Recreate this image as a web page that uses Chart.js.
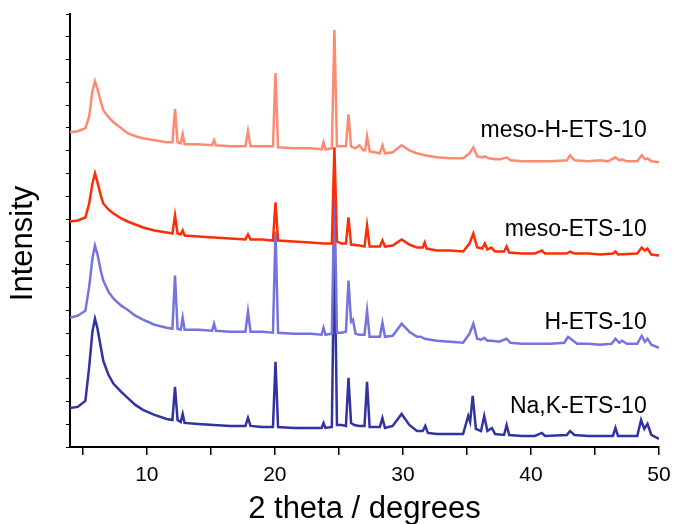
<!DOCTYPE html>
<html>
<head>
<meta charset="utf-8">
<script src="https://cdn.jsdelivr.net/npm/chart.js@4.4.1/dist/chart.umd.min.js"></script>
<style>
  html, body { margin: 0; padding: 0; background: #fff; }
</style>
</head>
<body>
<canvas id="xrd" width="674" height="524"></canvas>
<script>
// series names, top to bottom
const seriesNames = ["meso-H-ETS-10", "meso-ETS-10", "H-ETS-10", "Na,K-ETS-10"];

// [2theta, intensity (stacked, arbitrary units)]
const mesoH = [
  [4,314],[4.6,315],[5.2,318],[5.5,330],[5.75,355],[5.95,365],[6.15,357],[6.4,345],[6.6,336],[7.0,329],[7.4,324],[8.0,318],
  [8.5,313],[9.1,310],[9.7,308],[10.6,306],[11.55,304],[12.0,304],[12.2,337],[12.4,304],[12.65,303],[12.8,312],
  [12.95,302],[14,302],[15.1,301],[15.25,306],[15.4,301],[16.5,300],[17.7,300],[17.9,315],[18.1,300],[19.0,300],
  [19.85,300],[20.05,373],[20.25,299],[21.5,298],[22.8,298],[23.65,297],[23.8,304],[23.95,297],[24.45,298],[24.65,416],
  [24.85,300],[25.2,300],[25.55,300],[25.75,332],[25.95,300],[26.3,298],[26.6,301],[26.9,296],[27.05,296],[27.2,310],
  [27.4,295],[28.2,293],[28.4,301],[28.6,293],[29.2,294],[29.9,301],[30.5,296],[31.1,293],[31.7,291],[32.65,289],
  [33.7,288],[34.7,288],[35.2,293],[35.5,299],[35.8,290],[36.2,289],[36.4,290],[36.7,288],[37.2,287],[37.6,287],
  [38.1,289],[38.4,286],[39.3,285],[40.3,285],[41.5,285],[42.8,286],[43.05,291],[43.4,286],[44.5,285],[45.4,286],
  [46.0,285],[46.6,289],[46.9,286],[47.1,287],[47.5,285],[48.3,285],[48.65,291],[48.9,287],[49.1,288],[49.4,285],[50,284]
];
const meso = [
  [4,225],[4.6,226],[5.2,229],[5.5,243],[5.75,263],[5.95,273],[6.15,264],[6.4,251],[6.6,243],[7.0,237],[7.4,233],[8.0,228],
  [8.5,225],[9.1,222],[9.7,219],[10.6,216],[11.55,214],[12.0,213],[12.2,231],[12.4,213],[12.65,212],[12.8,216],
  [12.95,211],[14,210],[15.25,209],[16.5,208],[17.7,207],[17.9,212],[18.1,207],[19.0,207],[19.85,206],[20.05,244],
  [20.25,206],[21.5,205],[22.8,204],[23.8,203],[24.45,203],[24.65,299],[24.85,205],[25.2,203],[25.55,203],[25.75,229],
  [25.95,202],[26.6,201],[27.0,200],[27.2,221],[27.4,200],[28.2,200],[28.4,206],[28.6,200],[29.2,201],[29.9,207],
  [30.5,202],[31.1,199],[31.55,199],[31.7,204],[31.85,198],[32.65,196],[33.7,196],[34.7,195],[35.2,203],[35.5,213],
  [35.8,199],[36.2,198],[36.4,203],[36.6,197],[36.9,199],[37.2,195],[37.9,195],[38.1,200],[38.3,194],[39.3,193],
  [40.3,193],[40.85,196],[41.1,193],[42.8,193],[43.05,195],[43.4,193],[44.5,193],[45.4,192],[46.4,193],[46.6,195],
  [46.8,192],[48.3,193],[48.65,199],[48.9,196],[49.1,198],[49.4,192],[50,191]
];
const hEts = [
  [4,129],[4.6,131],[5.2,136],[5.5,160],[5.75,188],[5.95,201],[6.15,192],[6.4,176],[6.6,166],[7.0,155],[7.4,148],[8.0,141],
  [8.5,137],[9.1,131],[9.7,127],[10.6,122],[11.55,119],[12.0,118],[12.2,171],[12.4,118],[12.65,117],[12.8,129],
  [12.95,117],[14,117],[15.1,116],[15.25,123],[15.4,116],[16.5,115],[17.7,115],[17.9,135],[18.1,115],[19.0,115],
  [19.85,114],[20.05,215],[20.25,114],[21.5,113],[22.8,113],[23.65,112],[23.8,119],[23.95,112],[24.45,113],[24.65,256],
  [24.85,114],[25.2,114],[25.55,115],[25.75,166],[25.95,125],[26.1,127],[26.3,113],[26.6,112],[27.0,112],[27.2,136],
  [27.4,110],[28.2,110],[28.4,124],[28.6,110],[29.2,111],[29.9,123],[30.5,115],[31.1,110],[31.4,110],[31.7,108],
  [32.65,106],[33.7,105],[34.7,104],[35.2,113],[35.5,123],[35.8,108],[36.1,107],[36.35,109],[36.6,106],[36.95,106],
  [37.5,105],[38.1,108],[38.4,104],[39.3,103],[40.3,103],[41.5,103],[42.6,104],[42.9,110],[43.3,106],[43.6,103],
  [44.5,103],[45.4,102],[46.3,103],[46.6,108],[46.9,104],[47.1,106],[47.5,103],[48.3,103],[48.65,111],[48.9,105],
  [49.1,108],[49.4,102],[50,99]
];
const naK = [
  [4,39],[4.6,40],[5.2,46],[5.5,80],[5.75,115],[5.95,128],[6.15,118],[6.4,100],[6.6,86],[7.0,72],[7.4,63],[8.0,55],
  [8.5,49],[9.1,42],[9.7,37],[10.6,32],[11.55,28],[12.0,27],[12.2,60],[12.4,27],[12.65,25],[12.8,33],
  [12.95,24],[14,23],[15.25,22],[16.5,21],[17.7,21],[17.9,29],[18.1,21],[19.0,20],[19.85,20],[20.05,85],
  [20.25,20],[21.5,19],[22.8,19],[23.65,19],[23.8,24],[23.95,19],[24.45,20],[24.65,210],[24.85,22],[25.2,22],
  [25.55,21],[25.75,69],[25.95,24],[26.2,22],[26.6,21],[27.0,21],[27.2,65],[27.4,20],[28.2,20],[28.4,29],
  [28.6,19],[29.2,21],[29.9,33],[30.5,22],[31.1,16],[31.55,16],[31.75,21],[31.95,14],[32.65,13],[33.7,13],
  [34.7,13],[35.1,31],[35.25,25],[35.45,51],[35.7,18],[36.1,16],[36.35,31],[36.6,16],[36.95,19],[37.2,13],
  [37.9,12],[38.1,22],[38.3,12],[39.3,11],[40.3,11],[40.85,14],[41.1,11],[42.8,12],[43.05,16],[43.4,12],
  [44.5,11],[45.4,11],[46.4,11],[46.6,19],[46.8,11],[48.3,11],[48.6,27],[48.85,18],[49.1,23],[49.4,12],[50,8]
];

const xTicks = [5, 10, 15, 20, 25, 30, 35, 40, 45, 50];
const yTickCount = 19;

const FONT = '"Liberation Sans", Arial, Helvetica, sans-serif';
Chart.defaults.font.family = FONT;
Chart.defaults.color = "#000";

const seriesLabels = {
  id: "seriesLabels",
  afterDatasetsDraw(chart, args, opts) {
    const { ctx } = chart;
    const x = chart.scales.x, y = chart.scales.y;
    ctx.save();
    ctx.font = opts.size + "px " + FONT;
    ctx.fillStyle = "#000";
    ctx.textAlign = "right";
    ctx.textBaseline = "alphabetic";
    opts.anchors.forEach((a, i) => {
      ctx.fillText(seriesNames[i], x.getPixelForValue(a[0]), y.getPixelForValue(a[1]));
    });
    ctx.restore();
  },
};

new Chart(document.getElementById("xrd"), {
  type: "line",
  data: {
    datasets: [
      { label: seriesNames[0], data: mesoH, borderColor: "#ff8a72" },
      { label: seriesNames[1], data: meso, borderColor: "#ff2d05" },
      { label: seriesNames[2], data: hEts, borderColor: "#7474dc" },
      { label: seriesNames[3], data: naK, borderColor: "#3232a2" },
    ],
  },
  options: {
    responsive: false,
    animation: false,
    devicePixelRatio: 1,
    layout: { padding: { left: 0, right: 15, top: 14, bottom: 0 } },
    elements: {
      point: { radius: 0 },
      line: { borderWidth: 2.5, tension: 0 },
    },
    plugins: {
      legend: { display: false },
      tooltip: { enabled: false },
      seriesLabels: {
        size: 23,
        anchors: [[49.04, 309], [49.04, 211], [49.04, 118], [49.04, 34]],
      },
    },
    scales: {
      x: {
        type: "linear",
        min: 4,
        max: 50,
        afterBuildTicks: (s) => { s.ticks = xTicks.map((v) => ({ value: v })); },
        afterFit: (s) => { s.paddingRight = 0; },
        ticks: {
          autoSkip: false,
          maxRotation: 0,
          padding: 10,
          font: { size: 21, lineHeight: 1 },
          callback: (v) => (v % 10 === 0 ? String(v) : ""),
        },
        grid: { drawOnChartArea: false, tickLength: 8, color: "#000", lineWidth: 1.5 },
        border: { color: "#000", width: 2 },
        title: {
          display: true,
          text: "2 theta / degrees",
          font: { size: 31, lineHeight: 1 },
          padding: { top: -2, bottom: -1 },
        },
      },
      y: {
        type: "linear",
        min: 0,
        max: 432,
        afterBuildTicks: (s) => {
          const t = [];
          for (let i = 0; i <= yTickCount; i++) t.push({ value: (432 * i) / yTickCount });
          s.ticks = t;
        },
        ticks: { display: false },
        grid: { drawOnChartArea: false, tickLength: 4, color: "#000", lineWidth: 1 },
        border: { color: "#000", width: 2 },
        title: {
          display: true,
          text: "Intensity   ",
          font: { size: 31, lineHeight: 1 },
          padding: { top: 8, bottom: 27 },
        },
      },
    },
  },
  plugins: [seriesLabels],
});
</script>
</body>
</html>
